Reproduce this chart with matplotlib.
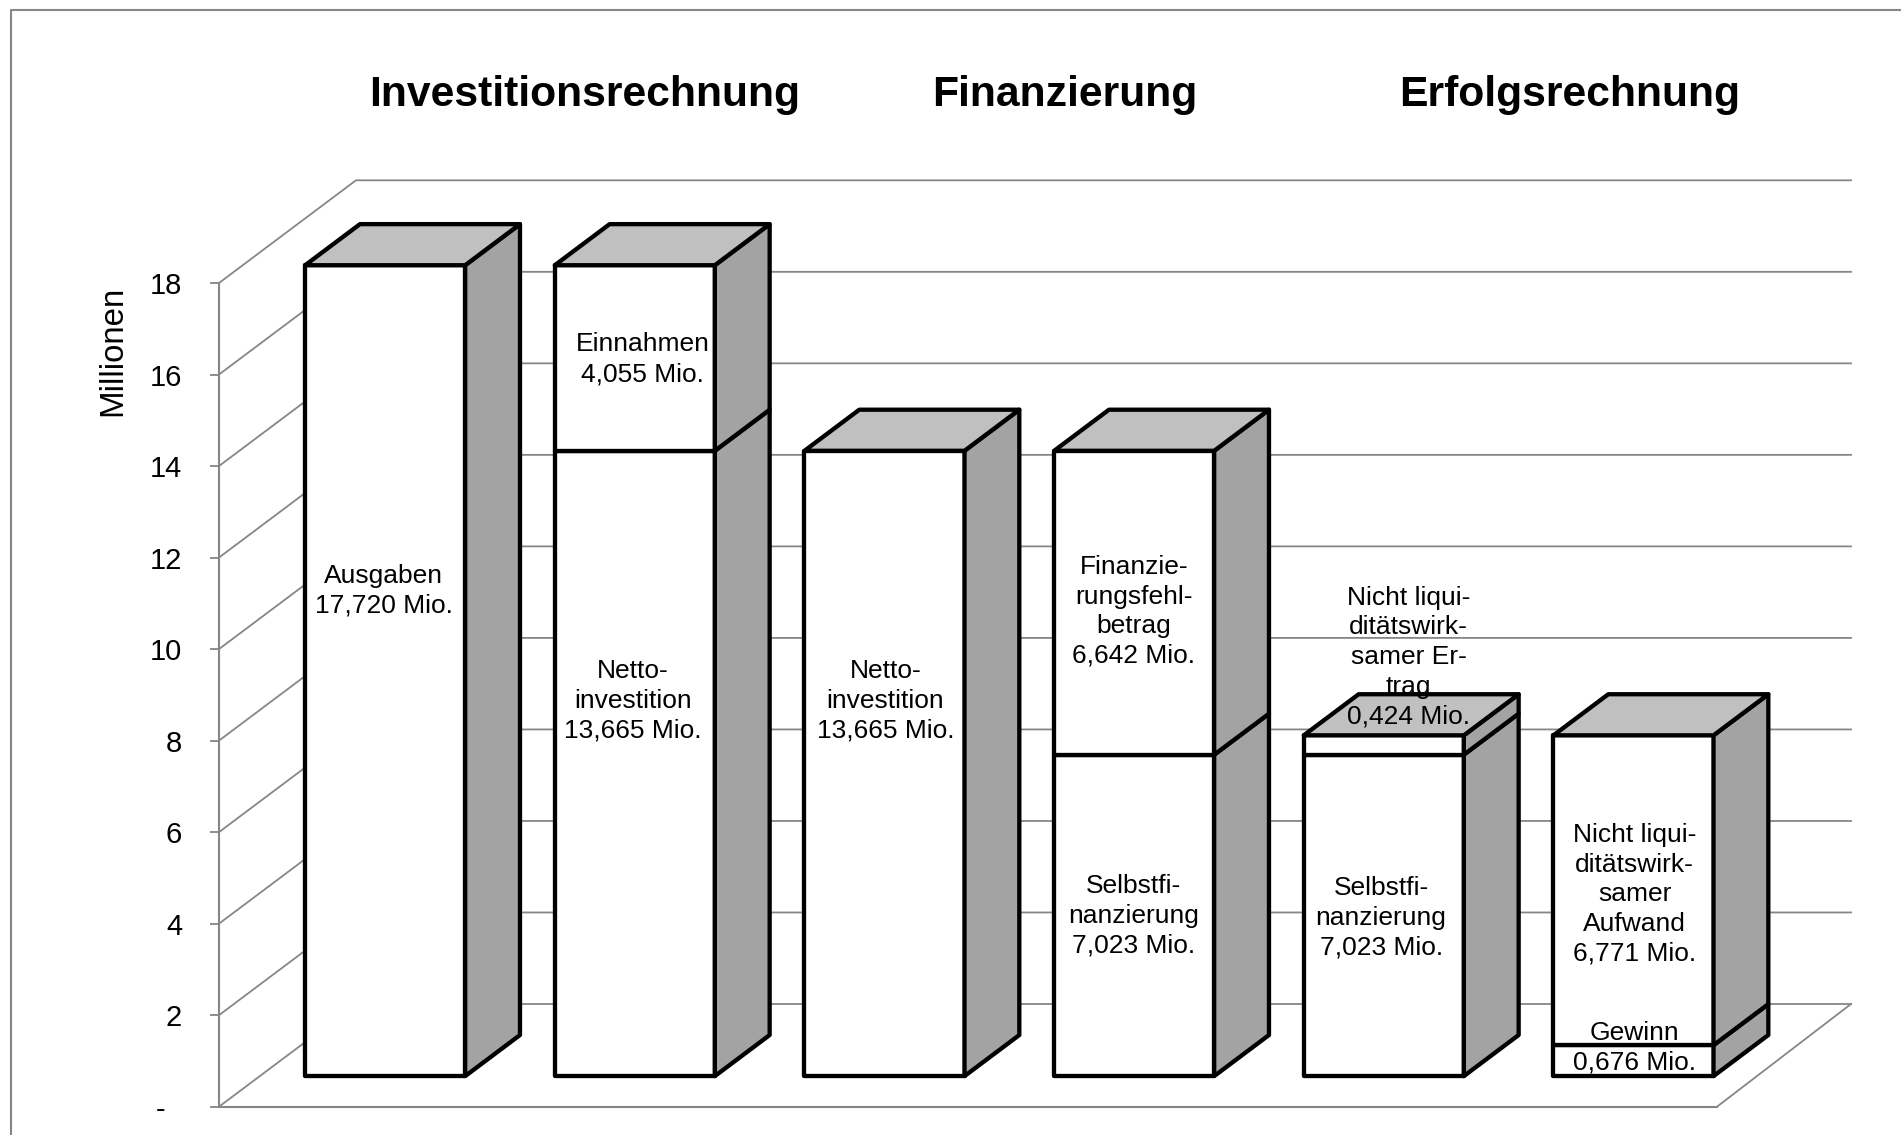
import matplotlib
matplotlib.use('Agg')
import matplotlib.pyplot as plt
from matplotlib.lines import Line2D

plt.rcParams['font.family'] = ['Liberation Sans', 'DejaVu Sans']

# Werte in Millionen, je Saeule von unten nach oben
bar_segments = [
    [17.720],
    [13.665, 4.055],
    [13.665],
    [7.023, 6.642],
    [7.023, 0.424],
    [0.676, 6.771],
]

# Saeule, Text, Versatz x, Hoehe der Textmitte ueber dem Saeulenfuss
labels = [
    (0, 'Ausgaben\n17,720 Mio.', -0.01, 10.59),
    (1, 'Einnahmen\n4,055 Mio.', 0.027, 15.64),
    (1, 'Netto-\ninvestition\n13,665 Mio.', -0.012, 8.17),
    (2, 'Netto-\ninvestition\n13,665 Mio.', 0.0, 8.17),
    (3, 'Finanzie-\nrungsfehl-\nbetrag\n6,642 Mio.', -0.005, 10.13),
    (3, 'Selbstfi-\nnanzierung\n7,023 Mio.', -0.005, 3.48),
    (4, 'Nicht liqui-\ndit\u00e4tswirk-\nsamer Er-\ntrag\n0,424 Mio.', 0.095, 9.13),
    (4, 'Selbstfi-\nnanzierung\n7,023 Mio.', -0.015, 3.44),
    (5, 'Nicht liqui-\ndit\u00e4tswirk-\nsamer\nAufwand\n6,771 Mio.', 0.0, 3.95),
    (5, 'Gewinn\n0,676 Mio.', 0.0, 0.6),
]

titles = ['Investitionsrechnung', 'Finanzierung', 'Erfolgsrechnung']
title_x = [584.4, 1064.5, 1570]

yticks = list(range(0, 20, 2))
ytick_labels = ['-  '] + [str(t) for t in yticks[1:]]

W, H = 1901, 1135
GREY = '#868686'
TOP_COL = '#c0c0c0'
SIDE_COL = '#a3a3a3'

# Vorderkante der Wand in Pixeln
left, right = 219, 1717
y_zero, y_top = 1106.7, 283

fig = plt.figure(figsize=(W / 100, H / 100), dpi=100)
ax = fig.add_axes([left / W, 1 - y_zero / H, (right - left) / W, (y_zero - y_top) / H])
ax.set_xlim(0, 6)
ax.set_ylim(0, 18)

# Tiefe der 3D-Darstellung in Achseneinheiten
depth_x = 137 / ((right - left) / 6)
depth_y = 102.7 / ((y_zero - y_top) / 18)
bar_width = 0.641
front = 0.309
back = 0.709
wall_end = 6 + depth_x - 0.012
base_drop = 0.025

for t in yticks:
    ax.plot([0, depth_x, wall_end], [t, t + depth_y, t + depth_y],
            color=GREY, lw=1.3, clip_on=False, zorder=1)
ax.plot([6, wall_end], [0, depth_y], color=GREY, lw=1.3, clip_on=False, zorder=1)

for i, segments in enumerate(bar_segments):
    x0 = i + 0.5 - bar_width / 2 + front * depth_x - 0.004
    x1 = x0 + bar_width
    base = front * depth_y - base_drop
    shift_x = (back - front) * depth_x
    shift_y = (back - front) * depth_y
    bottom = base
    style = dict(edgecolor='black', lw=3.1, joinstyle='round', clip_on=False, zorder=3)
    for value in segments:
        top = bottom + value
        ax.fill([x0, x1, x1, x0], [bottom, bottom, top, top], facecolor='white', **style)
        ax.fill([x1, x1 + shift_x, x1 + shift_x, x1],
                [bottom, bottom + shift_y, top + shift_y, top], facecolor=SIDE_COL, **style)
        bottom = top
    ax.fill([x0, x1, x1 + shift_x, x0 + shift_x],
            [bottom, bottom, bottom + shift_y, bottom + shift_y], facecolor=TOP_COL, **style)

for i, text, off, y in labels:
    ax.text(i + 0.5 + front * depth_x + off, y + front * depth_y, text,
            ha='center', va='center', fontsize=19, linespacing=1.3, zorder=5, clip_on=False)

ax.set_xticks([])
ax.set_yticks(yticks)
ax.set_yticklabels(ytick_labels, fontsize=21)
ax.tick_params(axis='y', length=6.5, width=1.3, color=GREY, pad=20)
for side in ['top', 'right']:
    ax.spines[side].set_visible(False)
for side in ['left', 'bottom']:
    ax.spines[side].set_color(GREY)
    ax.spines[side].set_linewidth(1.5)
ax.patch.set_visible(False)

ax.set_ylabel('Millionen', fontsize=23.8)
ax.yaxis.set_label_coords(-0.0604, 0.918)

for text, x in zip(titles, title_x):
    fig.text(x / W, 1 - 94.6 / H, text, ha='center', va='center', fontsize=30.7, fontweight='bold')

# Diagrammrahmen, unten und rechts abgeschnitten
fig.add_artist(Line2D([10.5 / W, 10.5 / W, 1], [0, 1 - 10 / H, 1 - 10 / H], color=GREY, lw=1.5))

fig.savefig('out.png', dpi=100)
